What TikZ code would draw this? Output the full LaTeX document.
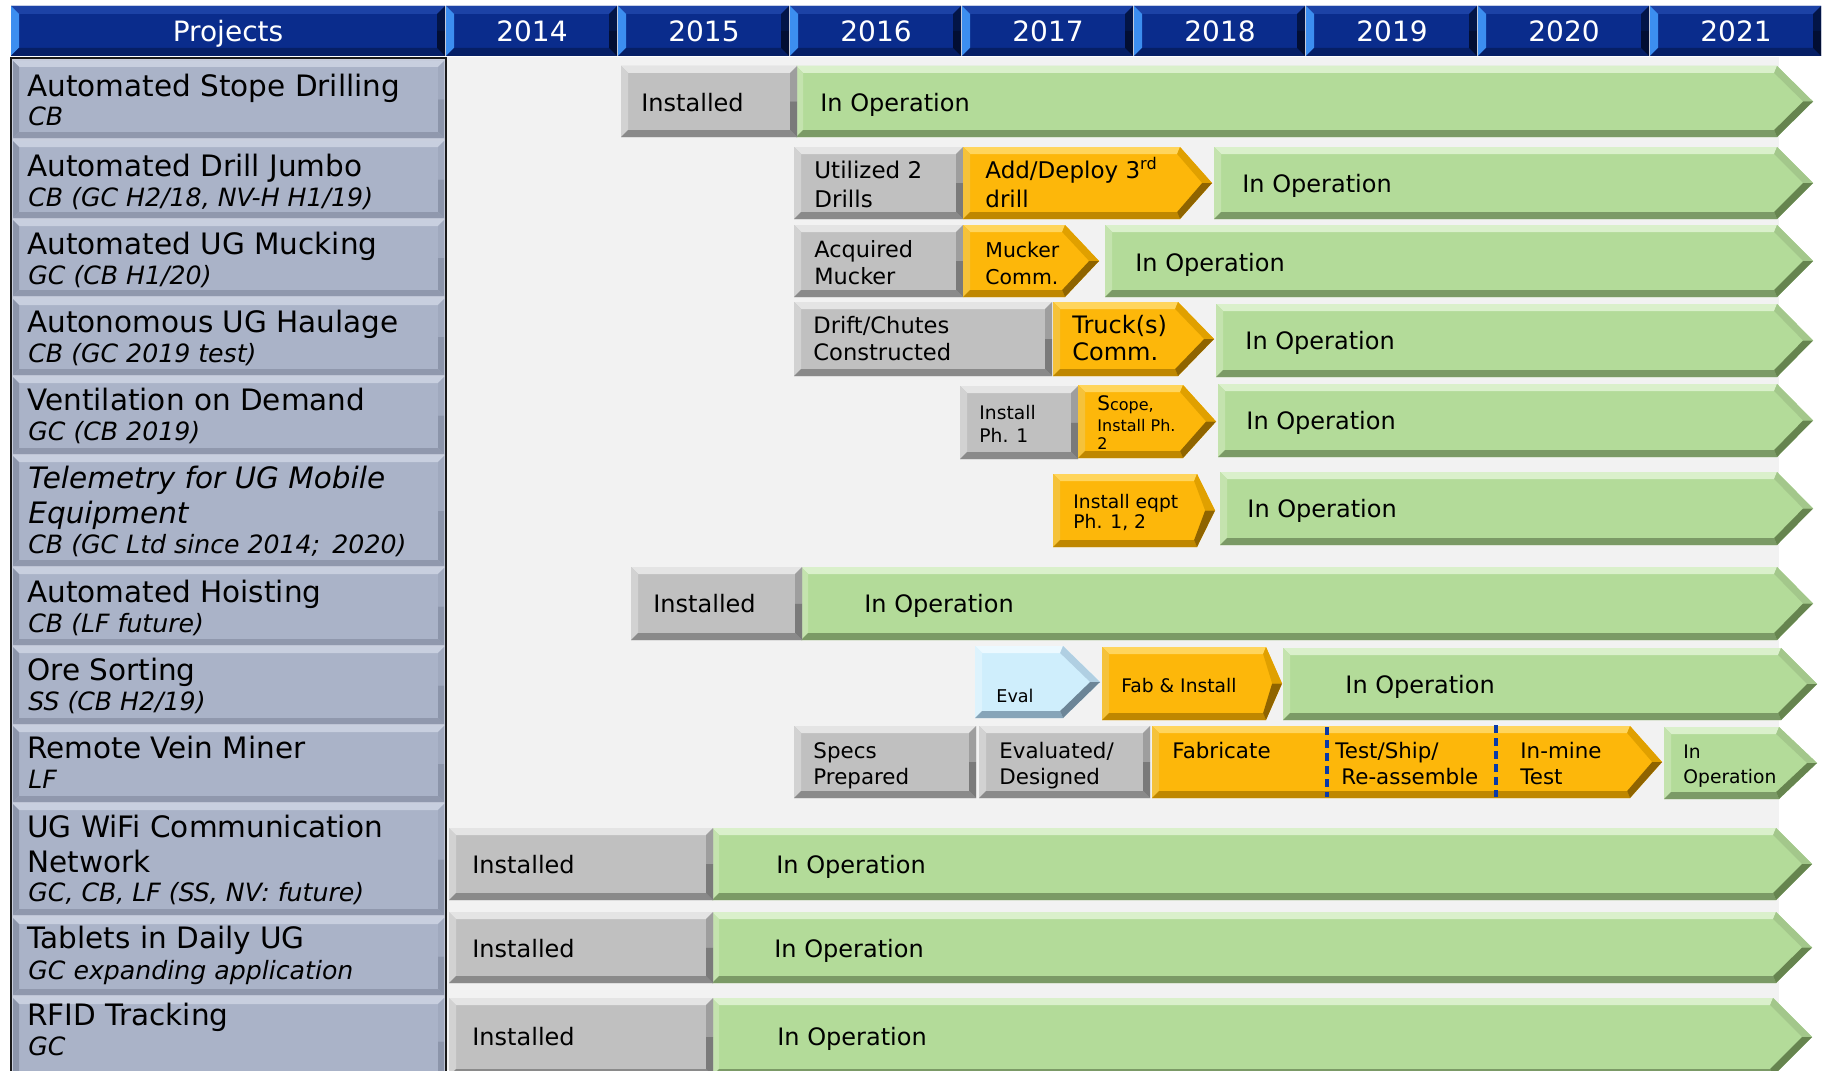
\documentclass[tikz,border=0pt]{standalone}
\usepackage{fontspec}
\setmainfont{DejaVu Sans}
% background / frame
\definecolor{bgg}{HTML}{F2F2F2}
\definecolor{lpbg}{HTML}{C9CFDE}
\definecolor{frm}{HTML}{1A1A1A}
\definecolor{dsh}{HTML}{0A3AA8}
% gray boxes
\definecolor{gry}{HTML}{C0C0C0}\definecolor{gryT}{HTML}{E4E4E4}\definecolor{gryL}{HTML}{D2D2D2}
\definecolor{gryB}{HTML}{8A8A8A}\definecolor{gryU}{HTML}{9E9E9E}\definecolor{gryR}{HTML}{7A7A7A}
% green arrows
\definecolor{grn}{HTML}{B3DB99}\definecolor{grnT}{HTML}{DAF0CB}\definecolor{grnL}{HTML}{C4E3AE}
\definecolor{grnB}{HTML}{7B9A66}\definecolor{grnU}{HTML}{A3C78B}\definecolor{grnR}{HTML}{66844F}
% orange arrows
\definecolor{org}{HTML}{FDB70A}\definecolor{orgT}{HTML}{FFD55C}\definecolor{orgL}{HTML}{F5C23A}
\definecolor{orgB}{HTML}{BF8700}\definecolor{orgU}{HTML}{E0A000}\definecolor{orgR}{HTML}{8F6400}
% light blue
\definecolor{eva}{HTML}{CFEEFC}\definecolor{evaT}{HTML}{ECF9FF}\definecolor{evaL}{HTML}{DDF3FD}
\definecolor{evaB}{HTML}{86A4B8}\definecolor{evaU}{HTML}{B0CFE2}\definecolor{evaR}{HTML}{6C8597}
% left panel rows
\definecolor{lp}{HTML}{AAB3C8}\definecolor{lpT}{HTML}{C8CFDF}\definecolor{lpL}{HTML}{8C95AA}
\definecolor{lpB}{HTML}{9098AD}\definecolor{lpU}{HTML}{A0A9BE}\definecolor{lpR}{HTML}{8C95AA}
% header
\definecolor{hd}{HTML}{0A2C8C}\definecolor{hdT}{HTML}{1C42A6}\definecolor{hdL}{HTML}{3C8EF0}
\definecolor{hdB}{HTML}{061F66}\definecolor{hdU}{HTML}{031547}\definecolor{hdR}{HTML}{020E33}
\newcommand\bvw{7}
% \bevbar{x1}{x2}{ytop}{ybottom}{tip}{colour prefix}
\newcommand\bevbar[6]{%
  \pgfmathsetmacro\bvym{(#3+#4)/2}%
  \pgfmathsetmacro\bvxb{#2-#5}%
  \pgfmathsetmacro\bvxbi{ifthenelse(#5>0,\bvxb-0.41*\bvw,#2-\bvw)}%
  \pgfmathsetmacro\bvxti{ifthenelse(#5>0,#2-1.41*\bvw,#2-\bvw)}%
  \pgfmathsetmacro\bvyt{#3+\bvw}%
  \pgfmathsetmacro\bvyb{#4-\bvw}%
  \pgfmathsetmacro\bvxl{#1+\bvw}%
  \fill[#6] (#1,#3) -- (\bvxb,#3) -- (#2,\bvym) -- (\bvxb,#4) -- (#1,#4) -- cycle;
  \fill[#6T] (#1,#3) -- (\bvxb,#3) -- (\bvxbi,\bvyt) -- (\bvxl,\bvyt) -- cycle;
  \fill[#6L] (#1,#3) -- (\bvxl,\bvyt) -- (\bvxl,\bvyb) -- (#1,#4) -- cycle;
  \fill[#6B] (#1,#4) -- (\bvxb,#4) -- (\bvxbi,\bvyb) -- (\bvxl,\bvyb) -- cycle;
  \fill[#6U] (\bvxb,#3) -- (#2,\bvym) -- (\bvxti,\bvym) -- (\bvxbi,\bvyt) -- cycle;
  \fill[#6R] (#2,\bvym) -- (\bvxb,#4) -- (\bvxbi,\bvyb) -- (\bvxti,\bvym) -- cycle;
}
\begin{document}
\begin{tikzpicture}[x=0.5pt,y=-0.5pt,
  ttl/.style={inner sep=0pt,anchor=base west,text=black,font=\fontsize{14.75}{17}\selectfont},
  sub/.style={inner sep=0pt,anchor=base west,text=black,font=\fontsize{12.6}{15}\selectfont\itshape},
  hdr/.style={inner sep=0pt,anchor=base,text=white,font=\fontsize{14}{16}\selectfont},
  lab/.style={inner sep=0pt,anchor=base west,text=black,font=\fontsize{12}{14}\selectfont},
  labA/.style={lab,font=\fontsize{11.5}{14}\selectfont},
  labM/.style={lab,font=\fontsize{10.7}{13}\selectfont},
  labC/.style={lab,font=\fontsize{10.2}{12}\selectfont},
  labS/.style={lab,font=\fontsize{9.35}{11}\selectfont},
  labXS/.style={lab,font=\fontsize{8}{10}\selectfont},
  dashln/.style={draw=dsh,line width=1.6pt,dash pattern=on 4pt off 2.5pt}]
\useasboundingbox (0,0) rectangle (1824,1070);
\clip (0,0) rectangle (1824,1070);
\fill[white] (0,0) rectangle (1824,1070);
\fill[bgg] (446,57) rectangle (1779,1070);

% ---------------- header ----------------
\renewcommand\bvw{8}
\bevbar{11}{445}{6}{56}{0}{hd}
\node[hdr] (hproj) at (228,42) {Projects};
\foreach \yr [count=\i from 0] in {2014,2015,2016,2017,2018,2019,2020,2021}{
  \pgfmathsetmacro\ya{446+172*\i}
  \pgfmathsetmacro\yb{\ya+171}
  \bevbar{\ya}{\yb}{6}{56}{0}{hd}
  \node[hdr] (y\yr) at (\ya+86,42) {\yr};
}

% ---------------- left panel ----------------
\fill[lpbg] (11,58) rectangle (446,1075);
\draw[frm,line width=1.2pt] (11,58) rectangle (446,1075);
\renewcommand\bvw{6}
\bevbar{13}{444}{61}{138}{0}{lp}
\bevbar{13}{444}{141}{218}{0}{lp}
\bevbar{13}{444}{220}{296}{0}{lp}
\bevbar{13}{444}{299}{375}{0}{lp}
\bevbar{13}{444}{377}{454}{0}{lp}
\bevbar{13}{444}{456}{566}{0}{lp}
\bevbar{13}{444}{568}{645}{0}{lp}
\bevbar{13}{444}{647}{724}{0}{lp}
\bevbar{13}{444}{726}{802}{0}{lp}
\bevbar{13}{444}{804}{915}{0}{lp}
\bevbar{13}{444}{918}{995}{0}{lp}
\bevbar{13}{444}{998}{1085}{0}{lp}

\node[ttl] (p1) at (27,97) {Automated Stope Drilling};
\node[sub] (p1s) at (28,126) {CB};
\node[ttl] (p2) at (27,176) {Automated Drill Jumbo};
\node[sub] (p2s) at (28,206) {CB (GC H2/18, NV-H H1/19)};
\node[ttl] (p3) at (27,254) {Automated UG Mucking};
\node[sub] (p3s) at (28,284) {GC (CB H1/20)};
\node[ttl] (p4) at (27,332) {Autonomous UG Haulage};
\node[sub] (p4s) at (28,362) {CB (GC 2019 test)};
\node[ttl] (p5) at (27,410) {Ventilation on Demand};
\node[sub] (p5s) at (28,440) {GC (CB 2019)};
\node[ttl,font=\fontsize{14.75}{17}\selectfont\itshape] (p6) at (28,488) {Telemetry for UG Mobile};
\node[ttl,font=\fontsize{14.75}{17}\selectfont\itshape] (p6b) at (28,523) {Equipment};
\node[sub] (p6s) at (28,553) {CB (GC Ltd since 2014;\, 2020)};
\node[ttl] (p7) at (27,602) {Automated Hoisting};
\node[sub] (p7s) at (28,632) {CB (LF future)};
\node[ttl] (p8) at (27,680) {Ore Sorting};
\node[sub] (p8s) at (28,710) {SS (CB H2/19)};
\node[ttl] (p9) at (27,758) {Remote Vein Miner};
\node[sub] (p9s) at (28,788) {LF};
\node[ttl] (p10) at (27,837) {UG WiFi Communication};
\node[ttl] (p10b) at (27,872) {Network};
\node[sub] (p10s) at (28,901) {GC, CB, LF (SS, NV: future)};
\node[ttl] (p11) at (27,948) {Tablets in Daily UG};
\node[sub] (p11s) at (28,979) {GC expanding application};
\node[ttl] (p12) at (27,1025) {RFID Tracking};
\node[sub] (p12s) at (28,1055) {GC};

% ---------------- bars ----------------
\renewcommand\bvw{7}
% row 1
\bevbar{796}{1813}{66}{137}{36}{grn}
\bevbar{621}{797}{66}{137}{0}{gry}
\node[lab] (b1a) at (641,112) {Installed};
\node[lab] (b1b) at (820,112) {In Operation};
% row 2
\bevbar{794}{963}{147}{219}{0}{gry}
\bevbar{963}{1212}{147}{219}{32}{org}
\bevbar{1214}{1813}{147}{219}{36}{grn}
\node[labA] (b2a) at (814,178) {Utilized 2};
\node[labA] (b2a2) at (814,207) {Drills};
\node[labA] (b2b) at (985,178) {Add/Deploy 3\textsuperscript{rd}};
\node[labA] (b2b2) at (985,207) {drill};
\node[lab] (b2c) at (1242,192) {In Operation};
% row 3
\bevbar{794}{963}{225}{297}{0}{gry}
\bevbar{963}{1099}{225}{297}{34}{org}
\bevbar{1105}{1813}{225}{297}{36}{grn}
\node[labA,font=\fontsize{11.2}{13}\selectfont] (b3a) at (814,257) {Acquired};
\node[labA,font=\fontsize{11.2}{13}\selectfont] (b3a2) at (814,284) {Mucker};
\node[labC] (b3b) at (985,257) {Mucker};
\node[labC] (b3b2) at (985,284) {Comm.};
\node[lab] (b3c) at (1135,271) {In Operation};
% row 4
\bevbar{794}{1052}{302}{376}{0}{gry}
\bevbar{1053}{1214}{302}{376}{36}{org}
\bevbar{1216}{1813}{304}{377}{36}{grn}
\node[labA,font=\fontsize{11.3}{13}\selectfont] (b4a) at (813,333) {Drift/Chutes};
\node[labA,font=\fontsize{11.3}{13}\selectfont] (b4a2) at (813,360) {Constructed};
\node[lab] (b4b) at (1072,333) {Truck(s)};
\node[lab] (b4b2) at (1072,360) {Comm.};
\node[lab] (b4c) at (1245,349) {In Operation};
% row 5
\bevbar{960}{1078}{386}{459}{0}{gry}
\bevbar{1078}{1216}{385}{458}{33}{org}
\bevbar{1218}{1813}{384}{457}{36}{grn}
\node[labS] (b5a) at (979,419) {Install};
\node[labS] (b5a2) at (979,442) {Ph. 1};
\node[labXS] (b5b) at (1097,410) {{\fontsize{10}{10}\selectfont S}cope,};
\node[labXS] (b5b2) at (1097,431) {Install Ph.};
\node[labXS] (b5b3) at (1097,449) {2};
\node[lab] (b5c) at (1246,429) {In Operation};
% row 6
\bevbar{1053}{1215}{474}{547}{18}{org}
\bevbar{1220}{1813}{472}{545}{36}{grn}
\node[labS] (b6a) at (1073,508) {Install eqpt};
\node[labS] (b6a2) at (1073,528) {Ph. 1, 2};
\node[lab] (b6b) at (1247,517) {In Operation};
% row 7
\bevbar{801}{1813}{567}{640}{36}{grn}
\bevbar{631}{802}{567}{640}{0}{gry}
\node[lab] (b7a) at (653,612) {Installed};
\node[lab] (b7b) at (864,612) {In Operation};
% row 8
\bevbar{975}{1100}{646}{718}{37}{eva}
\bevbar{1102}{1282}{647}{720}{16}{org}
\bevbar{1283}{1817}{648}{720}{36}{grn}
\node[labS,font=\fontsize{8.8}{10}\selectfont] (b8a) at (996,702) {Eval};
\node[labS] (b8b) at (1121,692) {Fab \& Install};
\node[lab] (b8c) at (1345,693) {In Operation};
% row 9
\bevbar{794}{976}{726}{798}{0}{gry}
\bevbar{979}{1150}{726}{798}{0}{gry}
\bevbar{1152}{1662}{726}{798}{32}{org}
\bevbar{1664}{1817}{727}{799}{38}{grn}
\draw[dashln] (1327,727) -- (1327,797);
\draw[dashln] (1496,725) -- (1496,797);
\node[labM] (b9a) at (813,758) {Specs};
\node[labM] (b9a2) at (813,784) {Prepared};
\node[labM] (b9b) at (999,758) {Evaluated/};
\node[labM] (b9b2) at (999,784) {Designed};
\node[labM] (b9c) at (1172,758) {Fabricate};
\node[labM] (b9d) at (1335,758) {Test/Ship/};
\node[labM] (b9d2) at (1341,784) {Re-assemble};
\node[labM] (b9e) at (1520,758) {In-mine};
\node[labM] (b9e2) at (1520,784) {Test};
\node[labS] (b9f) at (1683,758) {In};
\node[labS] (b9f2) at (1683,783) {Operation};
% row 10
\bevbar{712}{1812}{828}{900}{36}{grn}
\bevbar{449}{713}{828}{900}{0}{gry}
\node[lab] (b10a) at (472,873) {Installed};
\node[lab] (b10b) at (776,873) {In Operation};
% row 11
\bevbar{712}{1812}{912}{983}{36}{grn}
\bevbar{449}{713}{912}{983}{0}{gry}
\node[lab] (b11a) at (472,957) {Installed};
\node[lab] (b11b) at (774,957) {In Operation};
% row 12
\bevbar{712}{1812}{998}{1076}{39}{grn}
\bevbar{449}{713}{998}{1076}{0}{gry}
\node[lab] (b12a) at (472,1045) {Installed};
\node[lab] (b12b) at (777,1045) {In Operation};
\end{tikzpicture}
\end{document}
